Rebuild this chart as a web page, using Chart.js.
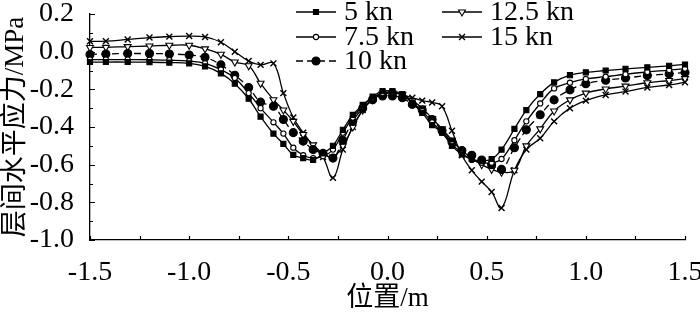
<!DOCTYPE html>
<html>
<head>
<meta charset="utf-8">
<script src="https://cdn.jsdelivr.net/npm/chart.js@4"></script>
<style>
html,body{margin:0;padding:0;background:#fff;}
#wrap{width:700px;height:315px;}
</style>
</head>
<body>
<div id="wrap"><canvas id="c" width="700" height="315"></canvas></div>
<script>
// Positions along the section (m)
const X = [-1.5, -1.42, -1.31, -1.2, -1.1, -1.0, -0.92, -0.84, -0.77, -0.70, -0.64,
  -0.575, -0.525, -0.475, -0.425, -0.375, -0.325, -0.275, -0.225, -0.175, -0.125, -0.075, -0.025,
  0.025, 0.075, 0.125, 0.175, 0.225, 0.275, 0.325, 0.375, 0.425, 0.475, 0.525, 0.575,
  0.64, 0.70, 0.77, 0.84, 0.92, 1.0, 1.1, 1.2, 1.31, 1.42, 1.5];

const S5 = [-0.055, -0.055, -0.055, -0.056, -0.058, -0.062, -0.078, -0.115, -0.17, -0.25, -0.345,
  -0.435, -0.49, -0.548, -0.565, -0.575, -0.54, -0.50, -0.415, -0.336, -0.283, -0.239, -0.21,
  -0.21, -0.225, -0.275, -0.325, -0.39, -0.43, -0.50, -0.545, -0.57, -0.58, -0.57, -0.52,
  -0.41, -0.31, -0.225, -0.163, -0.125, -0.11, -0.10, -0.091, -0.083, -0.075, -0.068];

const S75 = [-0.042, -0.042, -0.042, -0.043, -0.045, -0.05, -0.062, -0.095, -0.14, -0.22, -0.30,
  -0.375, -0.435, -0.51, -0.55, -0.565, -0.555, -0.52, -0.43, -0.35, -0.29, -0.245, -0.22,
  -0.215, -0.23, -0.27, -0.315, -0.375, -0.43, -0.49, -0.54, -0.575, -0.59, -0.59, -0.57,
  -0.47, -0.37, -0.275, -0.195, -0.165, -0.145, -0.133, -0.12, -0.108, -0.098, -0.09];

const S10 = [-0.015, -0.012, -0.01, -0.01, -0.012, -0.018, -0.03, -0.07, -0.125, -0.19, -0.268,
  -0.29, -0.36, -0.43, -0.475, -0.52, -0.54, -0.565, -0.47, -0.37, -0.30, -0.255, -0.235,
  -0.235, -0.245, -0.28, -0.31, -0.36, -0.42, -0.48, -0.525, -0.55, -0.575, -0.60, -0.625,
  -0.51, -0.415, -0.335, -0.256, -0.203, -0.17, -0.152, -0.14, -0.127, -0.118, -0.11];

const S125 = [0.022, 0.023, 0.027, 0.03, 0.034, 0.034, 0.015, -0.014, -0.055, -0.075, -0.168,
  -0.255, -0.31, -0.37, -0.44, -0.495, -0.54, -0.56, -0.50, -0.40, -0.31, -0.255, -0.225,
  -0.22, -0.23, -0.26, -0.30, -0.355, -0.41, -0.47, -0.525, -0.565, -0.60, -0.625, -0.64,
  -0.63, -0.50, -0.41, -0.315, -0.256, -0.22, -0.198, -0.183, -0.165, -0.153, -0.143];

const S15 = [0.055, 0.056, 0.065, 0.075, 0.08, 0.083, 0.078, 0.05, 0.0, -0.05, -0.07,
  -0.062, -0.22, -0.35, -0.43, -0.50, -0.56, -0.67, -0.52, -0.40, -0.31, -0.25, -0.22,
  -0.215, -0.228, -0.245, -0.26, -0.27, -0.29, -0.42, -0.55, -0.63, -0.69, -0.745, -0.83,
  -0.63, -0.52, -0.46, -0.37, -0.30, -0.26, -0.23, -0.212, -0.19, -0.177, -0.162];

const SERIES_LABELS = ['5 kn', '7.5 kn', '10 kn', '12.5 kn', '15 kn'];
const X_TITLE = '位置/m';
const Y_TITLE = '层间水平应力/MPa';

const FONT = "'Liberation Serif', 'Noto Sans CJK SC', serif";

function pts(arr){ return X.map((x,i)=>({x:x, y:arr[i]})); }
function fmt(v){ v = Number(v); if (Math.abs(v) < 1e-9) v = 0; return v.toFixed(1); }

const base = {borderColor:'#000', borderWidth:1.3, tension:0.4, showLine:true, fill:false, clip:14,
  pointBorderColor:'#000', pointBorderWidth:1.1};

const datasets = [
  Object.assign({}, base, {label:SERIES_LABELS[0], data:pts(S5), pointStyle:'rect', pointRadius:3.6, pointBackgroundColor:'#000', backgroundColor:'#000'}),
  Object.assign({}, base, {label:SERIES_LABELS[1], data:pts(S75), pointStyle:'circle', pointRadius:2.6, pointBackgroundColor:'#fff', backgroundColor:'#fff'}),
  Object.assign({}, base, {label:SERIES_LABELS[2], data:pts(S10), pointStyle:'circle', pointRadius:4, pointBackgroundColor:'#000', backgroundColor:'#000', borderDash:[7,4]}),
  Object.assign({}, base, {label:SERIES_LABELS[3], data:pts(S125), pointStyle:'triangle', pointRotation:180, pointRadius:4, pointBackgroundColor:'#fff', backgroundColor:'#fff'}),
  Object.assign({}, base, {label:SERIES_LABELS[4], data:pts(S15), pointStyle:'crossRot', pointRadius:4.2, pointBorderWidth:1.4, pointBackgroundColor:'#000', backgroundColor:'#000'})
];

function drawMarker(ctx, ds, x, y){
  ctx.save();
  ctx.fillStyle = ds.pointBackgroundColor;
  ctx.strokeStyle = '#000';
  ctx.lineWidth = ds.pointBorderWidth;
  ctx.setLineDash([]);
  const opts = {pointStyle: ds.pointStyle, rotation: ds.pointRotation || 0, radius: ds.pointRadius, borderWidth: ds.pointBorderWidth};
  if (Chart.helpers && Chart.helpers.drawPoint) {
    Chart.helpers.drawPoint(ctx, opts, x, y);
  }
  ctx.restore();
}

const legendPlugin = {
  id:'customLegend',
  afterDraw(chart){
    const ctx = chart.ctx;
    const ds = chart.data.datasets;
    const slots = [[296,12],[296,37],[296,61],[442,12],[442,37]];
    ctx.save();
    ctx.font = "28px " + FONT;
    ctx.textBaseline = 'middle';
    ctx.fillStyle = '#000';
    ds.forEach((d,i)=>{
      const [lx,ly] = slots[i];
      ctx.save();
      ctx.strokeStyle = '#000';
      ctx.lineWidth = 1.3;
      ctx.setLineDash(d.borderDash || []);
      ctx.beginPath(); ctx.moveTo(lx,ly); ctx.lineTo(lx+40,ly); ctx.stroke();
      ctx.restore();
      drawMarker(ctx, d, lx+20, ly);
      ctx.fillStyle = '#000';
      ctx.fillText(d.label, lx+48, ly+1);
    });
    ctx.restore();
  }
};

const ticksPlugin = {
  id:'insideTicks',
  afterDraw(chart){
    const ctx = chart.ctx;
    const xs = chart.scales.x, ys = chart.scales.y;
    const a = chart.chartArea;
    ctx.save();
    ctx.strokeStyle = '#000';
    ctx.lineWidth = 1.2;
    ctx.beginPath();
    for (let k=0; k<=12; k++){
      const v = -1.5 + k*0.25;
      const px = Math.round(xs.getPixelForValue(v))+0.5;
      ctx.moveTo(px, a.bottom); ctx.lineTo(px, a.bottom-4);
    }
    for (let k=0; k<=12; k++){
      const v = -1.0 + k*0.1;
      const py = Math.round(ys.getPixelForValue(v))+0.5;
      const len = (k%2===0) ? 5 : 3;
      ctx.moveTo(a.left, py); ctx.lineTo(a.left+len, py);
    }
    ctx.stroke();
    ctx.restore();
  }
};

new Chart(document.getElementById('c'), {
  type:'scatter',
  data:{datasets:datasets},
  options:{
    responsive:false,
    animation:false,
    devicePixelRatio:1,
    layout:{padding:{left:0, right:15, top:14, bottom:0}},
    plugins:{legend:{display:false}, tooltip:{enabled:false}},
    scales:{
      x:{type:'linear', min:-1.5, max:1.5,
        grid:{display:false},
        border:{display:true, color:'#000', width:1.3},
        ticks:{stepSize:0.5, color:'#000', padding:8, maxRotation:0, font:{family:FONT, size:28},
          callback:fmt},
        title:{display:true, text:X_TITLE, color:'#000', font:{family:FONT, size:27}, padding:{top:0, bottom:0}},
        afterFit(s){ s.height = 75; s.paddingLeft = 0; s.paddingRight = 0; }
      },
      y:{type:'linear', min:-1.0, max:0.2,
        grid:{display:false},
        border:{display:true, color:'#000', width:1.3},
        ticks:{stepSize:0.2, color:'#000', padding:8, font:{family:FONT, size:28},
          callback:fmt},
        title:{display:true, text:Y_TITLE, color:'#000', font:{family:FONT, size:27}, padding:{top:0, bottom:0}},
        afterFit(s){ s.width = 90; s.paddingTop = 0; s.paddingBottom = 0; }
      }
    }
  },
  plugins:[ticksPlugin, legendPlugin]
});
</script>
</body>
</html>
